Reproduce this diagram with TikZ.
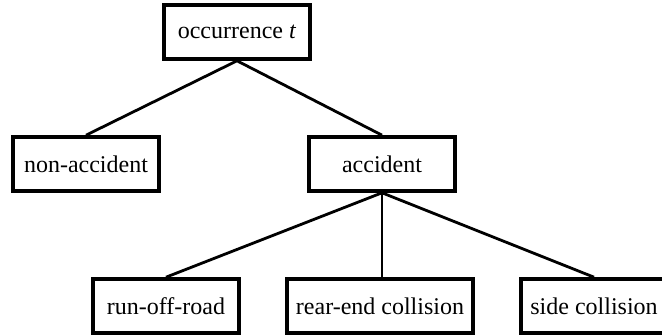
\documentclass[tikz,border=0pt]{standalone}
\usepackage{fontspec}
\setmainfont{Liberation Serif}
\usetikzlibrary{positioning}

\tikzset{
  box/.style={draw, line width=1.8pt, rectangle, minimum width=73pt,
    minimum height=27pt, inner xsep=4.5pt, font=\fontsize{12}{14}\selectfont},
  branch/.style={line width=1.4pt}
}

\begin{document}
\begin{tikzpicture}[x=0.5pt,y=-0.5pt]
  \useasboundingbox (0,0) rectangle (662,335);

  \node[box] (occ) at (237,32) {occurrence \textit{t}};
  \node[box] (nonacc) at (86,164) {non-accident};
  \node[box] (acc) at (382,164) {accident};
  \node[box] (runoff) at (166,306) {run-off-road};
  \node[box] (rearend) at (380,306) {rear-end collision};
  \node[box] (side) at (594,306) {side collision};

  \draw[branch] (occ.south) -- (nonacc.north);
  \draw[branch] (occ.south) -- (acc.north);
  \draw[branch] (acc.south) -- (runoff.north);
  \draw[branch] (acc.south) -- (rearend.north -| acc.south);
  \draw[branch] (acc.south) -- (side.north);
\end{tikzpicture}
\end{document}
